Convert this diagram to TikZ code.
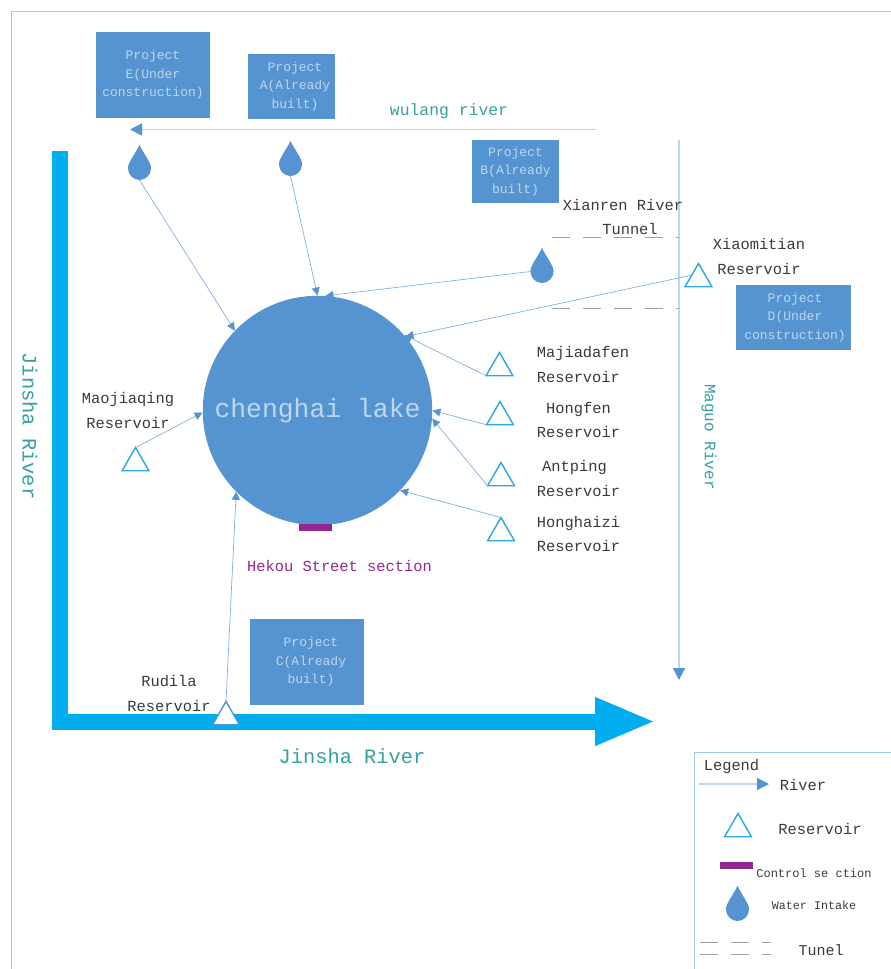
\documentclass[tikz,border=0pt]{standalone}
\usepackage{fontspec}
\setmonofont{Liberation Mono}
\usepackage{tikz}
\usetikzlibrary{arrows.meta,shapes.geometric}
\definecolor{lakeblue}{HTML}{5694D1}
\definecolor{linkblue}{HTML}{7FB0DD}
\definecolor{paleblue}{HTML}{BDD7EE}
\definecolor{framec}{HTML}{9CC8EC}
\definecolor{jinsha}{HTML}{00AEEF}
\definecolor{tealtext}{HTML}{35A0A0}
\definecolor{sectionc}{HTML}{93278F}
\definecolor{darktext}{HTML}{3A3A3A}
\definecolor{cyanline}{HTML}{2CA6E0}
\newcommand{\waterdrop}[2]{
\node[dropnode] (#1) at (#2) {};
\fill[lakeblue] (#1.east) .. controls +(0,-6) and +(5,10) .. ([yshift=12pt]#1.north) .. controls +(-5,10) and +(0,-6) .. (#1.west) -- cycle;
}
\begin{document}
\begin{tikzpicture}[
   x=1pt,y=-1pt,
   font=\ttfamily,
   project/.style={fill=lakeblue,text=paleblue,inner sep=0pt,align=center,font=\ttfamily\fontsize{13}{18.5}\selectfont},
   lake/.style={circle,fill=lakeblue,text=paleblue,inner sep=0pt,minimum size=229.5pt,font=\ttfamily\fontsize{26.4}{30}\selectfont},
   reservoir/.style={regular polygon,regular polygon sides=3,draw=#1,line width=1.4pt,inner sep=0pt,outer sep=0pt,minimum size=31pt},
   reservoir/.default=cyanline,
   dropnode/.style={circle,fill=lakeblue,inner sep=0pt,outer sep=0pt,minimum size=23pt},
   section/.style={fill=sectionc,inner sep=0pt,minimum width=33pt,minimum height=6.5pt},
   link/.style={-{Triangle[length=8pt,width=8pt,color=lakeblue]},linkblue,line width=0.7pt},
   river/.style={-{Triangle[length=12pt,width=12pt,color=lakeblue]},paleblue,line width=1.3pt},
   mainriver/.style={-{Triangle[length=61pt,width=44pt]},jinsha,line width=16pt},
   tunnel/.style={gray!75,line width=0.8pt,dash pattern=on 18pt off 13pt},
   frameline/.style={framec,line width=1pt},
   label/.style={text=darktext,inner sep=0pt,align=center,font=\ttfamily\fontsize{15.4}{24.5}\selectfont},
   rivername/.style={text=tealtext,inner sep=0pt,font=\ttfamily\fontsize{#1}{#1}\selectfont}]
\useasboundingbox (0,0) rectangle (891,969);
% frames
\draw[frameline] (11,969) -- (11,11) -- (891,11);
\draw[frameline] (694,969) -- (694,752.5) -- (891,752.5);
% rivers
\coordinate (jinshaTop) at (60,151);
\coordinate (jinshaBend) at (60,721.5);
\coordinate (jinshaEnd) at (656,721.5);
\draw[mainriver] (jinshaTop) -- (jinshaBend) -- (jinshaEnd);
\coordinate (wulangStart) at (596,129.5);
\coordinate (wulangEnd) at (130,129.5);
\draw[river] (wulangStart) -- (wulangEnd);
\coordinate (maguoStart) at (679,140);
\coordinate (maguoEnd) at (679,680);
\draw[river] (maguoStart) -- (maguoEnd);
% tunnel
\coordinate (tunnelA) at (552,237);
\coordinate (tunnelB) at (679,237);
\coordinate (tunnelC) at (552,308);
\coordinate (tunnelD) at (679,308);
\draw[tunnel] (tunnelA) -- (tunnelB);
\draw[tunnel] (tunnelC) -- (tunnelD);
% project boxes
\node[project,minimum width=114pt,minimum height=86pt] (projectE) at (153,75) {Project\\E(Under\\construction)};
\node[project,minimum width=87pt,minimum height=65pt] (projectA) at (291.5,86.5) {\hspace*{7pt}Project\\\hspace*{7pt}A(Already\\\hspace*{7pt}built)};
\node[project,minimum width=87pt,minimum height=63pt] (projectB) at (515.5,171.5) {Project\\B(Already\\built)};
\node[project,minimum width=115pt,minimum height=65pt] (projectD) at (793.5,317.5) {\hspace*{3pt}Project\\\hspace*{3pt}D(Under\\\hspace*{3pt}construction)};
\node[project,minimum width=114pt,minimum height=86pt] (projectC) at (307,662) {\hspace*{8pt}Project\\\hspace*{8pt}C(Already\\\hspace*{8pt}built)};
% lake and section
\node[lake] (chenghai) at (317.5,410.5) {\raisebox{-3pt}{chenghai lake}};
\node[section] (hekou) at (315.5,527.5) {};
% water intakes
\waterdrop{dropE}{139.5,168.5}
\waterdrop{dropA}{290.5,164.5}
\waterdrop{dropX}{542,271.5}
% reservoirs
\node[reservoir] (xiaomitian) at (698.5,279) {};
\node[reservoir] (majiadafen) at (499.5,368) {};
\node[reservoir] (hongfen) at (500,417) {};
\node[reservoir] (antping) at (501,478) {};
\node[reservoir] (honghaizi) at (501,533) {};
\node[reservoir] (maojiaqing) at (135.5,463) {};
\node[reservoir=lakeblue,fill=white] (rudila) at (226,717) {};
% connectors
\draw[link] (dropE.south) -- (chenghai.136);
\draw[link] (dropA.south) -- (chenghai.90);
\draw[link] (dropX.west) -- (chenghai.86);
\draw[link] (xiaomitian.side 1) -- (chenghai.40);
\draw[link] (majiadafen.corner 2) -- (chenghai.41);
\draw[link] (hongfen.corner 2) -- (chenghai.0);
\draw[link] (antping.corner 2) -- (chenghai.-4);
\draw[link] (honghaizi.corner 1) -- (chenghai.-44);
\draw[link] (maojiaqing.corner 1) -- (chenghai.181);
\draw[link] (rudila.corner 1) -- (chenghai.225);
% labels
\node[rivername=16.4] (wulangLabel) at (449,111) {wulang river};
\node[rivername=20.4] (jinshaBottom) at (352,756) {Jinsha River};
\node[rivername=20.4,rotate=-90] (jinshaLeft) at (30,426) {Jinsha River};
\node[rivername=16,rotate=-90] (maguoLabel) at (709,437) {Maguo River};
\node[label] (xianrenLabel) at (623,217) {Xianren River\\\hspace*{14pt}Tunnel};
\node[label] (xiaomitianLabel) at (759,256.5) {Xiaomitian\\Reservoir};
\node[label,align=left] (majiadafenLabel) at (583,364.5) {Majiadafen\\Reservoir};
\node[label] (hongfenLabel) at (578.5,420) {Hongfen\\Reservoir};
\node[label] (antpingLabel) at (578.5,478.5) {\hspace*{-8pt}Antping\\Reservoir};
\node[label] (honghaiziLabel) at (578.5,534) {Honghaizi\\Reservoir};
\node[label] (maojiaqingLabel) at (128,410.5) {Maojiaqing\\Reservoir};
\node[label] (rudilaLabel) at (169,693.5) {Rudila\\Reservoir};
\node[label,text=sectionc] (hekouLabel) at (339.5,566) {Hekou Street section};
% legend
\node[label] (legendTitle) at (731.5,767) {Legend};
\coordinate (legendRiverA) at (699,784);
\coordinate (legendRiverB) at (769,784);
\draw[river] (legendRiverA) -- (legendRiverB);
\node[label] (legendRiver) at (803,785) {River};
\node[reservoir] (legendReservoir) at (738,829) {};
\node[label] (legendReservoirText) at (820,829) {Reservoir};
\node[section] (legendSection) at (736.5,865.5) {};
\node[label,font=\ttfamily\fontsize{12}{14}\selectfont] (legendSectionText) at (814,873) {Control se ction};
\waterdrop{legendDrop}{737.5,909.5}
\node[label,font=\ttfamily\fontsize{11.7}{14}\selectfont] (legendDropText) at (814,905) {Water Intake};
\coordinate (legendTunelA) at (700,942);
\coordinate (legendTunelB) at (771,942);
\coordinate (legendTunelC) at (700,954);
\coordinate (legendTunelD) at (771,954);
\draw[tunnel] (legendTunelA) -- (legendTunelB);
\draw[tunnel] (legendTunelC) -- (legendTunelD);
\node[label,font=\ttfamily\fontsize{15}{18}\selectfont] (legendTunelText) at (821,950) {Tunel};
\end{tikzpicture}
\end{document}
